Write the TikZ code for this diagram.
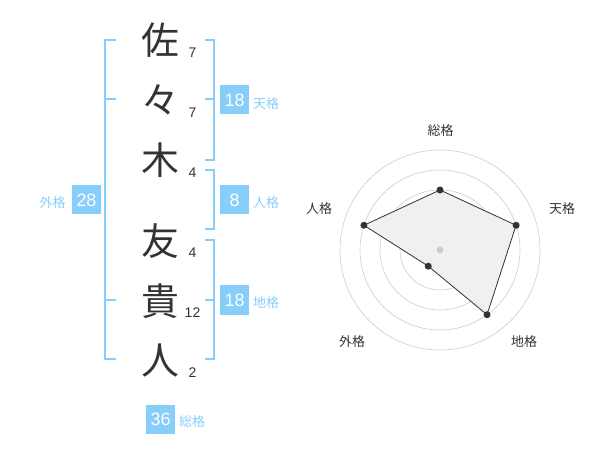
\documentclass[tikz,border=0pt]{standalone}
\usepackage{fontspec}
\setmainfont{Liberation Sans}
\newfontfamily\jp{Noto Sans CJK JP}
\usepackage{tikz}

\definecolor{kakublue}{RGB}{135,206,250}
\definecolor{inkgray}{RGB}{51,51,51}
\definecolor{ringgray}{RGB}{204,204,204}
\definecolor{areagray}{RGB}{240,240,240}

\tikzset{
  kanji/.style={inner sep=0pt, text=inkgray, font=\jp\fontsize{38}{38}\selectfont},
  strokes/.style={inner sep=0pt, text=inkgray, font=\fontsize{14}{14}\selectfont},
  kakubox/.style={fill=kakublue, text=white, minimum width=29bp, minimum height=29bp,
    inner sep=0pt, font=\fontsize{18}{18}\selectfont},
  kakuname/.style={inner sep=0pt, text=kakublue, font=\jp\fontsize{13}{13}\selectfont},
  bracket/.style={draw=kakublue, line width=2bp},
  ring/.style={draw=ringgray, line width=0.6bp},
  axisname/.style={inner sep=0pt, text=inkgray, font=\jp\fontsize{13}{13}\selectfont},
}

\begin{document}
\begin{tikzpicture}[%
      x=1bp, y=-1bp,
      ]
      \useasboundingbox (0,0) rectangle (600,470);

      % name
      \node [kanji] (c1) at (160,40) {佐};
      \node [kanji] (c2) at (160,100) {々};
      \node [kanji] (c3) at (160,160) {木};
      \node [kanji] (c4) at (160,241) {友};
      \node [kanji] (c5) at (160,301) {貴};
      \node [kanji] (c6) at (160,361) {人};

      \node [strokes] (s1) at (192.5,53) {7};
      \node [strokes] (s2) at (192.5,113) {7};
      \node [strokes] (s3) at (192.5,173) {4};
      \node [strokes] (s4) at (192.5,253) {4};
      \node [strokes] (s5) at (192.5,313) {12};
      \node [strokes] (s6) at (192.5,373) {2};

      % brackets
      \draw [bracket] (116,40) -- (105,40) -- (105,359) -- (116,359);
      \draw [bracket] (105,99) -- (116,99);
      \draw [bracket] (105,300) -- (116,300);
      \draw [bracket] (205,40) -- (214,40) -- (214,160) -- (205,160);
      \draw [bracket] (214,99) -- (205,99);
      \draw [bracket] (205,170) -- (214,170) -- (214,229) -- (205,229);
      \draw [bracket] (205,240) -- (214,240) -- (214,359) -- (205,359);
      \draw [bracket] (214,300) -- (205,300);

      % kaku values
      \node [kakubox] (gai) at (86.5,200) {28};
      \node [kakuname] at (52.5,203) {外格};
      \node [kakubox] (ten) at (234.5,100) {18};
      \node [kakuname] at (266,104) {天格};
      \node [kakubox] (jin) at (234.5,200) {8};
      \node [kakuname] at (266,203) {人格};
      \node [kakubox] (chi) at (234.5,300) {18};
      \node [kakuname] at (266,303) {地格};
      \node [kakubox] (sou) at (160.5,419) {36};
      \node [kakuname] at (192,422) {総格};

      % radar
      \coordinate (ctr) at (440,250);
      \draw [ring] (ctr) circle (20);
      \draw [ring] (ctr) circle (40);
      \draw [ring] (ctr) circle (60);
      \draw [ring] (ctr) circle (80);
      \draw [ring] (ctr) circle (100);

      \coordinate (psou) at ([shift={(-90:60)}]ctr);
      \coordinate (pten) at ([shift={(-18:80)}]ctr);
      \coordinate (pchi) at ([shift={(54:80)}]ctr);
      \coordinate (pgai) at ([shift={(126:20)}]ctr);
      \coordinate (pjin) at ([shift={(198:80)}]ctr);

      \filldraw [fill=areagray, draw=inkgray, line width=0.8bp]
        (psou) -- (pten) -- (pchi) -- (pgai) -- (pjin) -- cycle;

      \fill [color=ringgray] (ctr) circle (3.5);
      \fill [color=inkgray] (psou) circle (3.5);
      \fill [color=inkgray] (pten) circle (3.5);
      \fill [color=inkgray] (pchi) circle (3.5);
      \fill [color=inkgray] (pgai) circle (3.5);
      \fill [color=inkgray] (pjin) circle (3.5);

      \node [axisname] (lsou) at (440.5,130.5) {総格};
      \node [axisname] (lten) at (562,209) {天格};
      \node [axisname] (lchi) at (524,342) {地格};
      \node [axisname] (lgai) at (352,342) {外格};
      \node [axisname] (ljin) at (319,209) {人格};
      \end{tikzpicture}
\end{document}
